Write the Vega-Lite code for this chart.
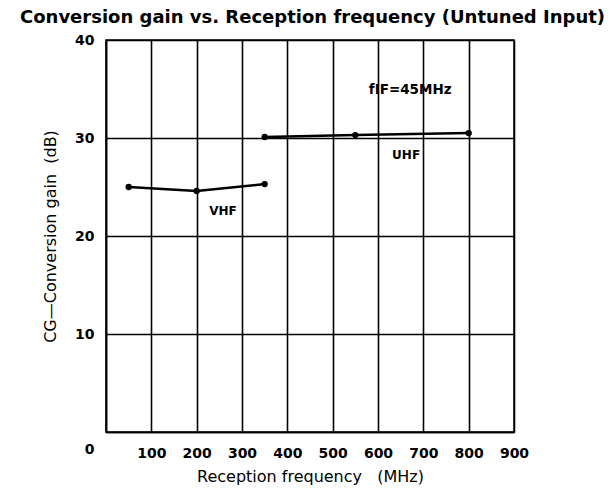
{
  "$schema": "https://vega.github.io/schema/vega-lite/v6.json",
  "autosize": {"type": "none"},
  "width": 408,
  "height": 392,
  "padding": {"left": 106, "top": 40, "right": 102, "bottom": 60},
  "background": "white",
  "config": {
    "view": {"stroke": "black", "strokeWidth": 1.5},
    "font": "DejaVu Sans"
  },
  "title": {
    "text": "Conversion gain vs. Reception frequency (Untuned Input)",
    "anchor": "start",
    "frame": "group",
    "dx": -86,
    "offset": 6,
    "font": "DejaVu Sans",
    "fontSize": 18,
    "fontWeight": "bold",
    "color": "black"
  },
  "datasets": {
    "curve": [
      {"band": "VHF", "f": 50, "cg": 25.0},
      {"band": "VHF", "f": 200, "cg": 24.6},
      {"band": "VHF", "f": 350, "cg": 25.3},
      {"band": "UHF", "f": 350, "cg": 30.1},
      {"band": "UHF", "f": 550, "cg": 30.3},
      {"band": "UHF", "f": 800, "cg": 30.5}
    ],
    "notes": [
      {"f": 258, "cg": 22.6, "label": "VHF"},
      {"f": 662, "cg": 28.3, "label": "UHF"}
    ],
    "fif": [
      {"f": 671, "cg": 34.9, "label": "fIF=45MHz"}
    ]
  },
  "layer": [
    {
      "data": {"name": "curve"},
      "mark": {"type": "line", "color": "black", "strokeWidth": 2.5},
      "encoding": {
        "x": {
          "field": "f", "type": "quantitative",
          "scale": {"domain": [0, 900], "nice": false},
          "axis": {
            "values": [0, 100, 200, 300, 400, 500, 600, 700, 800, 900],
            "title": "Reception frequency\u00a0\u00a0\u00a0(MHz)",
            "titleFont": "DejaVu Sans", "titleFontSize": 16, "titleFontWeight": "normal", "titleColor": "black", "titlePadding": 8,
            "labelFont": "DejaVu Sans", "labelFontSize": 14, "labelFontWeight": "bold", "labelColor": "black", "labelPadding": 14,
            "labelFlush": false, "labelOverlap": false,
            "labelExpr": "datum.value == 0 ? '' : datum.label",
            "ticks": false,
            "domainColor": "black", "domainWidth": 1.5,
            "grid": true, "gridColor": "black", "gridWidth": 1.6, "gridOpacity": 1
          }
        },
        "y": {
          "field": "cg", "type": "quantitative",
          "scale": {"domain": [0, 40], "nice": false},
          "axis": {
            "values": [0, 10, 20, 30, 40],
            "title": "CG\u2014Conversion gain\u00a0\u00a0(dB)",
            "titleFont": "DejaVu Sans", "titleFontSize": 16, "titleFontWeight": "normal", "titleColor": "black", "titlePadding": 16,
            "labelFont": "DejaVu Sans", "labelFontSize": 14, "labelFontWeight": "bold", "labelColor": "black", "labelPadding": 12,
            "labelFlush": false, "labelOverlap": false,
            "labelOffset": {"condition": {"test": "datum.value == 0", "value": 17}, "value": 0},
            "ticks": false,
            "domainColor": "black", "domainWidth": 1.5,
            "grid": true, "gridColor": "black", "gridWidth": 1.6, "gridOpacity": 1
          }
        },
        "detail": {"field": "band"}
      }
    },
    {
      "data": {"name": "curve"},
      "mark": {"type": "point", "filled": true, "color": "black", "size": 40, "opacity": 1},
      "encoding": {
        "x": {"field": "f", "type": "quantitative"},
        "y": {"field": "cg", "type": "quantitative"}
      }
    },
    {
      "data": {"name": "notes"},
      "mark": {"type": "text", "font": "DejaVu Sans", "fontSize": 12, "fontWeight": "bold", "color": "black"},
      "encoding": {
        "x": {"field": "f", "type": "quantitative"},
        "y": {"field": "cg", "type": "quantitative"},
        "text": {"field": "label"}
      }
    },
    {
      "data": {"name": "fif"},
      "mark": {"type": "text", "font": "DejaVu Sans", "fontSize": 13.5, "fontWeight": "bold", "color": "black"},
      "encoding": {
        "x": {"field": "f", "type": "quantitative"},
        "y": {"field": "cg", "type": "quantitative"},
        "text": {"field": "label"}
      }
    }
  ]
}
